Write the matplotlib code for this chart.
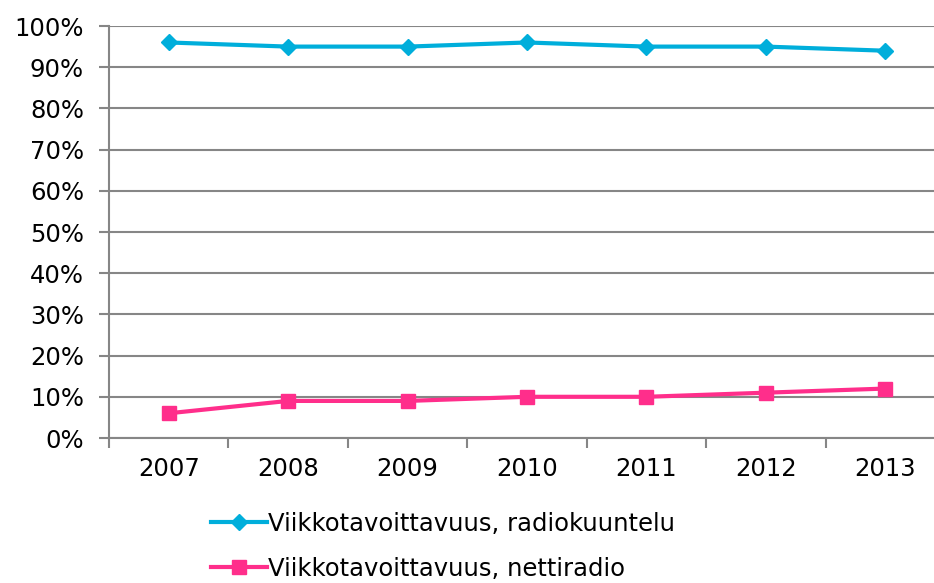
import matplotlib.pyplot as plt

years = ["2007", "2008", "2009", "2010", "2011", "2012", "2013"]
radio = [96, 95, 95, 96, 95, 95, 94]
netti = [6, 9, 9, 10, 10, 11, 12]
y_ticks = [0, 10, 20, 30, 40, 50, 60, 70, 80, 90, 100]

grey = "#868686"
fs = 17.5

fig = plt.figure(figsize=(9.34, 5.83), dpi=100)
ax = fig.add_axes([109 / 934, 1 - 438 / 583, 836 / 934, 412 / 583])

x = list(range(len(years)))
ax.plot(x, radio, color="#00AEDB", lw=3, marker="D", ms=8.5,
        label="Viikkotavoittavuus, radiokuuntelu")
ax.plot(x, netti, color="#FF2E8B", lw=3, marker="s", ms=10,
        label="Viikkotavoittavuus, nettiradio")

ax.set_xlim(-0.5, len(years) - 0.5)
ax.set_ylim(0, 100)
ax.set_yticks(y_ticks)
ax.set_yticklabels([f"{v}%" for v in y_ticks])
ax.set_xticks(x)
ax.set_xticklabels(years)
ax.set_xticks([i - 0.5 for i in range(len(years) + 1)], minor=True)

ax.grid(axis="y", color=grey, lw=1.5)
ax.set_axisbelow(True)
for s in ["top", "right"]:
    ax.spines[s].set_visible(False)
for s in ["left", "bottom"]:
    ax.spines[s].set_color(grey)
    ax.spines[s].set_linewidth(1.5)

ax.tick_params(axis="y", colors=grey, length=7, width=1.5, labelcolor="black",
               labelsize=fs, pad=11)
ax.tick_params(axis="x", which="major", length=0, labelsize=fs, pad=14)
ax.tick_params(axis="x", which="minor", colors=grey, length=7, width=1.5)

fig.legend(loc="upper left", bbox_to_anchor=(211 / 934, 1 - 512 / 583),
           frameon=False, fontsize=fs, handlelength=2.3, handletextpad=0.05,
           labelspacing=0.85, borderaxespad=0, borderpad=0)

fig.savefig("out.png", dpi=100)
